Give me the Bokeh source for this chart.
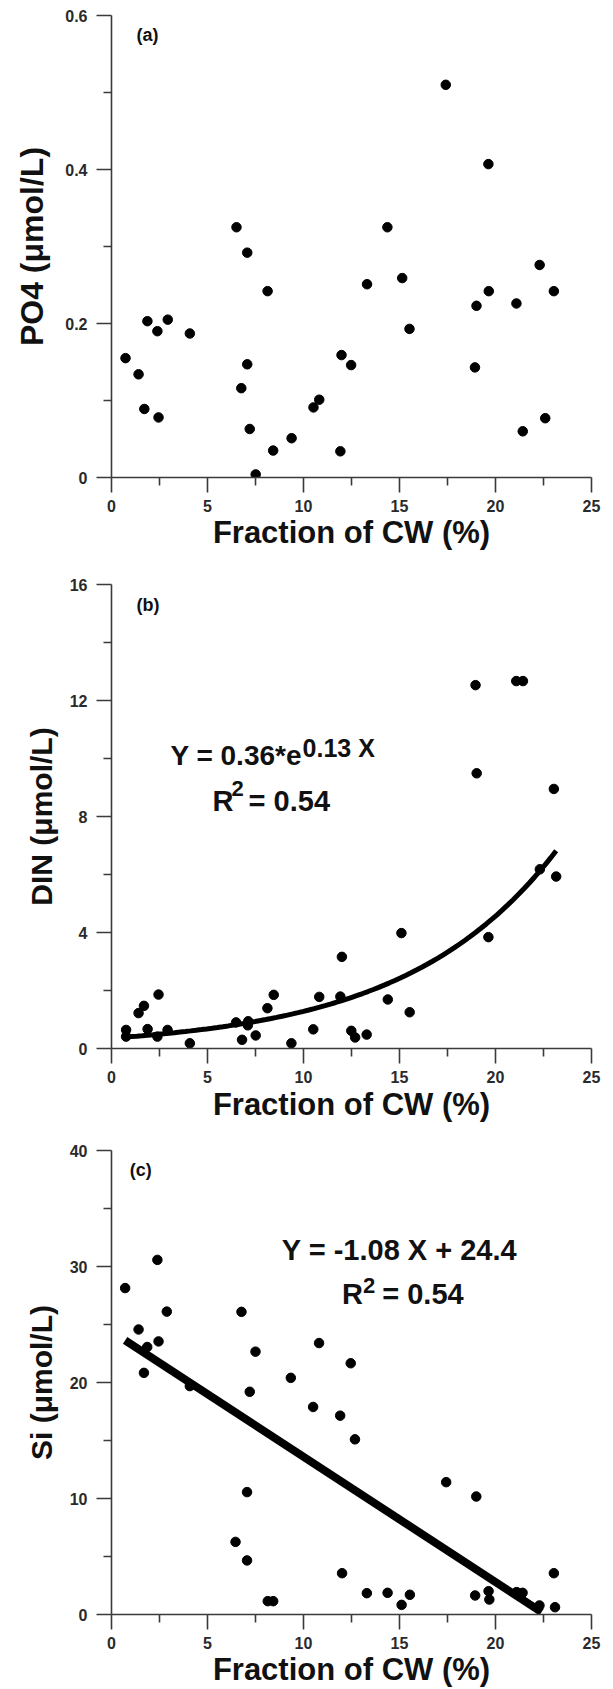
from bokeh.plotting import figure
from bokeh.layouts import column
from bokeh.models import Range1d, Label, FixedTicker, NumeralTickFormatter
from bokeh.embed import file_html
from bokeh.resources import INLINE

# ---------------- data ----------------
x_ticks = [0, 5, 10, 15, 20, 25]
x_minor = [2.5, 7.5, 12.5, 17.5, 22.5]
x_label = "Fraction of CW (%)"

# (a) PO4
frac_a = [0.73, 1.41, 1.71, 1.87, 2.39, 2.45, 2.93, 4.08, 6.51, 6.76, 7.07, 7.07,
          7.20, 7.51, 8.13, 8.42, 9.38, 10.52, 10.82, 11.92, 11.98, 12.48, 13.31,
          14.37, 15.14, 15.52, 17.41, 18.93, 19.01, 19.63, 19.65, 21.09, 21.42,
          22.30, 22.59, 23.04]
po4 = [0.155, 0.134, 0.089, 0.203, 0.190, 0.078, 0.205, 0.187, 0.325, 0.116, 0.292,
       0.147, 0.063, 0.004, 0.242, 0.035, 0.051, 0.091, 0.101, 0.034, 0.159, 0.146,
       0.251, 0.325, 0.259, 0.193, 0.510, 0.143, 0.223, 0.407, 0.242, 0.226, 0.060,
       0.276, 0.077, 0.242]
po4_ticks = [0, 0.2, 0.4, 0.6]
po4_minor = [0.1, 0.3, 0.5]
po4_label = "PO4 (\u03bcmol/L)"

# (b) DIN
frac_b = [0.76, 0.76, 1.41, 1.69, 1.88, 2.39, 2.45, 2.92, 4.08, 6.49, 6.80, 7.10,
          7.12, 7.51, 8.12, 8.45, 9.37, 10.51, 10.82, 11.92, 12.00, 12.49, 12.69,
          13.29, 14.39, 15.10, 15.53, 18.96, 19.02, 19.63, 21.08, 21.43, 22.31,
          23.04, 23.16]
din = [0.64, 0.41, 1.22, 1.47, 0.67, 0.41, 1.86, 0.64, 0.18, 0.90, 0.30, 0.80,
       0.94, 0.45, 1.39, 1.85, 0.18, 0.66, 1.78, 1.79, 3.16, 0.61, 0.38, 0.48,
       1.69, 3.98, 1.25, 12.53, 9.49, 3.84, 12.67, 12.67, 6.18, 8.95, 5.93]
din_ticks = [0, 4, 8, 12, 16]
din_minor = [2, 6, 10, 14]
din_label = "DIN (\u03bcmol/L)"
din_fit_a = 0.36          # Y = a * exp(b X)
din_fit_b = 0.127
din_fit_x = [0.76 + i * (23.16 - 0.76) / 80 for i in range(81)]
din_fit_y = [din_fit_a * 2.718281828 ** (din_fit_b * x) for x in din_fit_x]

# (c) Si
frac_c = [0.71, 1.41, 1.69, 1.86, 2.39, 2.45, 2.88, 4.08, 6.46, 6.77, 7.06, 7.06,
          7.20, 7.50, 8.14, 8.42, 9.34, 10.50, 10.81, 11.91, 12.01, 12.46, 12.68,
          13.30, 14.38, 15.11, 15.54, 17.43, 18.94, 19.00, 19.64, 19.68, 21.10,
          21.41, 22.29, 23.04, 23.10]
si = [28.14, 24.57, 20.83, 23.06, 30.57, 23.54, 26.11, 19.69, 6.26, 26.09, 10.55,
      4.66, 19.20, 22.66, 1.15, 1.15, 20.40, 17.89, 23.40, 17.14, 3.56, 21.66,
      15.10, 1.84, 1.87, 0.83, 1.70, 11.41, 1.64, 10.17, 2.01, 1.29, 1.93, 1.87,
      0.78, 3.56, 0.63]
si_ticks = [0, 10, 20, 30, 40]
si_minor = [5, 15, 25, 35]
si_label = "Si (\u03bcmol/L)"
si_fit_slope = -1.08
si_fit_icpt = 24.4
si_fit_x = [0.71, 22.4]
si_fit_y = [si_fit_icpt + si_fit_slope * x for x in si_fit_x]

# ---------------- styling ----------------
FONT = "Liberation Sans"
AXIS_COLOR = "#3a3a3a"
W = 613
LEFT = 111
FRAME_W = 480


def make_panel(height, top, frame_h, y_max, yt, ym, ylab, ylab_standoff,
               xlab_standoff, ylab_size="30px", y_fmt=None):
    bottom = height - top - frame_h
    p = figure(width=W, height=height, frame_width=FRAME_W, frame_height=frame_h,
               min_border_left=LEFT, min_border_right=W - LEFT - FRAME_W,
               min_border_top=top, min_border_bottom=bottom,
               x_range=Range1d(0, 25), y_range=Range1d(0, y_max),
               output_backend="svg", toolbar_location=None)
    p.outline_line_color = None
    p.grid.visible = False
    p.border_fill_color = "white"
    p.background_fill_color = "white"
    p.xaxis.ticker = FixedTicker(ticks=x_ticks, minor_ticks=x_minor)
    p.yaxis.ticker = FixedTicker(ticks=yt, minor_ticks=ym)
    if y_fmt is not None:
        p.yaxis.formatter = y_fmt
    p.xaxis.axis_label = x_label
    p.yaxis.axis_label = ylab
    for ax in (p.xaxis[0], p.yaxis[0]):
        ax.axis_line_color = AXIS_COLOR
        ax.axis_line_width = 1.6
        ax.major_tick_line_color = AXIS_COLOR
        ax.minor_tick_line_color = AXIS_COLOR
        ax.major_tick_line_width = 1.6
        ax.minor_tick_line_width = 1.6
        ax.major_tick_in = 0
        ax.major_tick_out = 15
        ax.minor_tick_in = 0
        ax.minor_tick_out = 8
        ax.major_label_text_font = FONT
        ax.major_label_text_font_style = "bold"
        ax.major_label_text_font_size = "16px"
        ax.major_label_text_color = "#2a2a2a"
        ax.axis_label_text_font = FONT
        ax.axis_label_text_font_style = "bold"
        ax.axis_label_text_color = "#111111"
    p.xaxis.axis_label_text_font_size = "31px"
    p.yaxis.axis_label_text_font_size = ylab_size
    p.yaxis.major_label_standoff = 9
    p.xaxis.major_label_standoff = 7
    p.yaxis.axis_label_standoff = ylab_standoff
    p.xaxis.axis_label_standoff = xlab_standoff
    return p


def add_text(p, x, y, text, size):
    p.add_layout(Label(x=x, y=y, text=text, text_font=FONT, text_font_style="bold",
                       text_font_size=size, text_color="#111111",
                       text_baseline="alphabetic", text_align="left"))


# (a)
pa = make_panel(560, 15, 462, 0.6, po4_ticks, po4_minor, po4_label, 12, 0,
                ylab_size="32px", y_fmt=NumeralTickFormatter(format="0.[0]"))
pa.scatter(frac_a, po4, size=9.5, color="black")
add_text(pa, 1.3, 0.575, "(a)", "18px")

# (b)
pb = make_panel(565, 24, 464, 16, din_ticks, din_minor, din_label, 9, 1)
pb.line(din_fit_x, din_fit_y, line_width=5, color="black")
pb.scatter(frac_b, din, size=9.5, color="black")
add_text(pb, 1.3, 15.3, "(b)", "18px")
add_text(pb, 3.07, 10.1, "Y = 0.36*e", "28px")
add_text(pb, 9.95, 10.35, "0.13 X", "25px")
add_text(pb, 5.26, 8.55, "R", "29px")
add_text(pb, 6.25, 8.95, "2", "22px")
add_text(pb, 7.14, 8.55, "= 0.54", "29px")

# (c)
pc = make_panel(564, 25, 464, 40, si_ticks, si_minor, si_label, 9, 0)
pc.line(si_fit_x, si_fit_y, line_width=8, color="black")
pc.scatter(frac_c, si, size=9.5, color="black")
add_text(pc, 0.95, 38.3, "(c)", "18px")
add_text(pc, 8.87, 31.45, "Y = -1.08 X + 24.4", "29px")
add_text(pc, 12.0, 27.6, "R", "29px")
add_text(pc, 13.1, 28.4, "2", "22px")
add_text(pc, 14.1, 27.6, "= 0.54", "29px")

layout = column(pa, pb, pc, spacing=0)
open("out.html", "w").write(file_html(layout, INLINE))
